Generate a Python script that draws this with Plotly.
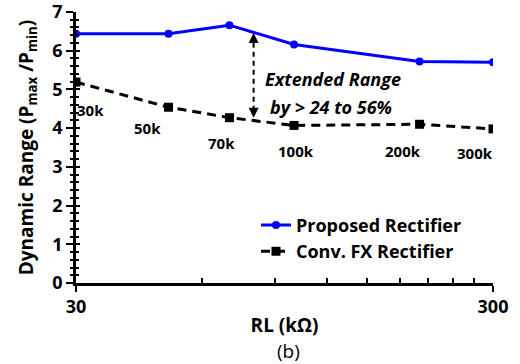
import plotly.graph_objects as go
import math

rl = [30, 50, 70, 100, 200, 300]
proposed = [6.44, 6.44, 6.66, 6.16, 5.72, 5.70]
conv = [5.19, 4.54, 4.27, 4.07, 4.10, 3.98]
point_labels = ["30k", "50k", "70k", "100k", "200k", "300k"]
x_major = [30, 300]
x_minor = [60, 90, 120, 150, 180, 210, 240, 270]

FONT = "Open Sans"
fig = go.Figure()
fig.add_trace(go.Scatter(x=rl, y=proposed, mode="lines+markers", name="Proposed Rectifier",
                         line=dict(color="#0000FF", width=3),
                         marker=dict(symbol="circle", size=8, color="#0000FF")))
fig.add_trace(go.Scatter(x=rl, y=conv, mode="lines+markers", name="Conv. FX Rectifier",
                         line=dict(color="black", width=3, dash="9px,6px"),
                         marker=dict(symbol="square", size=9, color="black")))

# point labels
lab_dy = [-0.71, -0.53, -0.65, -0.65, -0.68, -0.61]
lab_dx = [14, -21, -8, 2, -17, -18]
for x, y, t, dy, dx in zip(rl, conv, point_labels, lab_dy, lab_dx):
    fig.add_annotation(x=math.log10(x), y=y + dy, text="<b>" + t + "</b>", showarrow=False, xshift=dx,
                       font=dict(family=FONT, size=15, color="black"))

# arrow
ax_paper = math.log10(80 / 30)
fig.add_shape(type="line", x0=ax_paper, x1=ax_paper, y0=4.45, y1=6.25, xref="paper", yref="y",
              line=dict(color="black", width=2, dash="5px,4px"))
fig.add_annotation(x=ax_paper, y=6.46, xref="paper", ax=0, ay=10, showarrow=True, arrowhead=2,
                   arrowsize=1, arrowwidth=2, arrowcolor="black", text="")
fig.add_annotation(x=ax_paper, y=4.27, xref="paper", ax=0, ay=-10, showarrow=True, arrowhead=2,
                   arrowsize=1, arrowwidth=2, arrowcolor="black", text="")
fig.add_annotation(x=(333 - 76) / 417, y=(283.3 - 79) / 38.7, xref="paper",
                   text="<b><i>Extended Range</i></b>", showarrow=False,
                   font=dict(family=FONT, size=18, color="black"))
fig.add_annotation(x=(331 - 76) / 417, y=(283.3 - 107) / 38.7, xref="paper",
                   text="<b><i>by > 24 to 56%</i></b>", showarrow=False,
                   font=dict(family=FONT, size=18, color="black"))

fig.add_annotation(x=(288 - 76) / 417, y=-(351 - 283.3) / 271, xref="paper", yref="paper",
                   yanchor="middle", text="(b)", showarrow=False,
                   font=dict(family=FONT, size=19, color="black"))

axis_font = dict(family=FONT, size=18, color="black", weight="bold")
fig.update_layout(
    width=520, height=364,
    margin=dict(l=76, r=27, t=12, b=81),
    plot_bgcolor="white", paper_bgcolor="white",
    font=dict(family=FONT, color="black"),
    xaxis=dict(type="log", range=[math.log10(30), math.log10(300)], tickmode="array",
               tickvals=x_major, ticktext=[str(v) for v in x_major], automargin=False,
               ticklabeloverflow="allow",
               ticks="outside", ticklen=6, tickwidth=2, tickcolor="black",
               showline=True, linecolor="black", linewidth=2.5, showgrid=False, zeroline=False,
               tickfont=axis_font,
               minor=dict(tickmode="array", tickvals=x_minor, ticks="inside", ticklen=5,
                          tickwidth=1.5, tickcolor="black", showgrid=False),
               title=dict(text="<b>RL (kΩ)</b>", font=dict(family=FONT, size=19, color="black"),
                          standoff=2)),
    yaxis=dict(range=[0, 7], dtick=1, ticks="outside", ticklen=7, tickwidth=2, tickcolor="black",
               showline=True, linecolor="black", linewidth=2.5, showgrid=False, zeroline=False,
               tickfont=axis_font, automargin=False, ticklabeloverflow="allow",
               minor=dict(dtick=0.2, ticks="outside", ticklen=3, tickwidth=1.5, tickcolor="black",
                          showgrid=False),
               title=dict(text="<b>Dynamic Range (P<sub>max</sub> /P<sub>min</sub>)</b>",
                          font=dict(family=FONT, size=19, color="black"), standoff=14)),
    yaxis2=dict(overlaying="y", matches="y", side="left", anchor="x", showticklabels=False,
                ticks="inside", ticklen=4, tickwidth=2, tickcolor="black", dtick=1, automargin=False,
                showgrid=False, zeroline=False, showline=False,
                minor=dict(dtick=0.2, ticks="inside", ticklen=3, tickwidth=1.5, tickcolor="black")),
    xaxis2=dict(overlaying="x", matches="x", type="log", anchor="y", side="bottom", automargin=False,
                showticklabels=False, tickmode="array", tickvals=x_major, ticks="inside",
                ticklen=6, tickwidth=2, tickcolor="black", showgrid=False, zeroline=False,
                showline=False),
    legend=dict(x=(256 - 76) / 417, y=(283.3 - 207) / 271, xanchor="left", yanchor="top",
                bgcolor="rgba(0,0,0,0)",
                font=dict(family=FONT, size=18, color="black", weight="bold"),
                tracegroupgap=0, itemwidth=30),
    showlegend=True,
)
# dummy trace to activate overlay axes
fig.add_trace(go.Scatter(x=[30], y=[0], xaxis="x2", yaxis="y2", mode="markers",
                         marker=dict(opacity=0), showlegend=False, hoverinfo="skip"))
fig.write_html("out.html")
